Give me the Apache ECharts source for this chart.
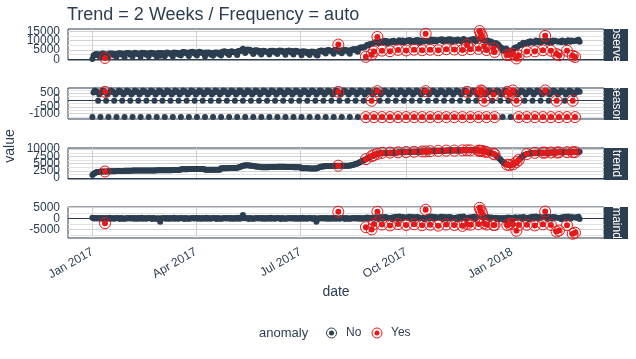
<!DOCTYPE html>
<html><head><meta charset="utf-8">
<script src="https://cdn.jsdelivr.net/npm/echarts@6/dist/echarts.min.js"></script>
<style>html,body{margin:0;padding:0;background:#fff}#c{width:636px;height:359px}</style>
</head><body><div id="c"></div>
<script>
// ---------------- DATA ----------------
const startDate = '2017-01-01';   // daily series, one value per day
const facets = ['observed', 'season', 'trend', 'remainder'];

const observed = [
90,2050,2350,2800,2750,1990,2750,
1040,2600,3100,2900,700,2440,2600,
1040,3150,2900,3100,2950,2090,2800,
1390,3000,3250,2850,3200,2440,2650,
1140,3200,3200,3400,3200,2390,3100,
1440,2950,3450,3200,3050,2740,2900,
1340,3450,3200,3400,3250,2390,3100,
1590,3200,3450,3050,3400,2640,2850,
1290,3350,3350,1850,3350,2540,3250,
1590,3100,3600,3350,3200,2890,3050,
1490,3600,3350,3550,3400,2540,3250,
1990,3600,3850,3450,3800,3040,3250,
1740,3800,3800,4000,3800,2990,3700,
1990,3500,4000,3750,3600,3290,3450,
1540,3650,3400,3600,3450,2590,3300,
1840,3450,3700,3300,3650,2890,3100,
1990,4050,4050,4250,4050,3240,3950,
2340,3850,4350,4100,3950,3640,3800,
2290,4500,4350,4700,4700,5690,4800,
3340,5000,5250,4800,5100,4290,4450,
2790,4750,4700,4850,4600,3740,4400,
2590,4100,4600,4350,4200,3890,4050,
2540,4650,4400,4600,4450,3590,4300,
2840,4450,4700,4300,4650,3890,4100,
2440,4500,4500,4700,4500,3690,4400,
2590,4100,4600,4350,4200,3890,4050,
2140,4250,4000,4200,4050,3190,3900,
2290,3900,4150,3750,4100,3340,2250,
2090,4300,4450,4750,4650,3890,4650,
3040,4550,5050,4800,4650,4340,4500,
2990,5100,4850,5050,7900,4040,4750,
3240,4850,5100,4700,5050,4290,4500,
2940,5050,5150,5450,5350,4690,5550,
3990,5700,6400,6350,6400,6290,6650,
1290,7700,7450,8100,8050,2490,8450,
4190,9150,9150,12000,8750,8890,9600,
4640,9050,10000,9650,9800,8540,9300,
4340,9650,9100,9950,9600,9440,9000,
5040,10250,9700,9350,10100,9140,9700,
4740,10050,9900,10350,9300,9340,10000,
5140,9450,10400,10050,10200,8940,9700,
4840,10050,9500,13750,10000,9840,9400,
5140,10650,10100,9750,10500,9540,10100,
4840,10450,10300,10750,9700,9740,10400,
5440,9850,10800,10450,10600,9340,10100,
5240,10350,9800,10650,10300,10140,9700,
4940,10950,10400,10050,7700,9840,10400,
5440,10650,10500,10950,9900,9940,10600,
5640,15200,13600,12400,10200,6940,10000,
4940,10050,9700,9050,9600,8740,5800,
3940,8750,7900,8050,7100,6440,6200,
4540,5350,4900,5750,2250,4890,2400,
3540,4750,2950,5800,6300,440,6550,
1990,7700,7950,7750,8900,8290,8650,
4140,9250,8800,9700,9400,9290,8900,
4290,10100,9550,9200,9950,8990,9550,
4840,9850,12600,10150,9100,9140,9800,
4590,9200,10150,9800,9950,2790,9450,
2140,9750,9200,10050,9700,9540,9100,
4590,10300,9750,9400,10150,1890,9750,
1240,10100,9950,10450,9400
];

const season = [
-1260,550,700,650,600,-60,400, -1260,550,700,650,600,-60,400, -1260,550,700,650,600,-60,400,
-1260,550,700,650,600,-60,400, -1260,550,700,650,600,-60,400, -1260,550,700,650,600,-60,400,
-1260,550,700,650,600,-60,400, -1260,550,700,650,600,-60,400, -1260,550,700,650,600,-60,400,
-1260,550,700,650,600,-60,400, -1260,550,700,650,600,-60,400, -1260,550,700,650,600,-60,400,
-1260,550,700,650,600,-60,400, -1260,550,700,650,600,-60,400, -1260,550,700,650,600,-60,400,
-1260,550,700,650,600,-60,400, -1260,550,700,650,600,-60,400, -1260,550,700,650,600,-60,400,
-1260,550,700,650,600,-60,400, -1260,550,700,650,600,-60,400, -1260,550,700,650,600,-60,400,
-1260,550,700,650,600,-60,400, -1260,550,700,650,600,-60,400, -1260,550,700,650,600,-60,400,
-1260,550,700,650,600,-60,400, -1260,550,700,650,600,-60,400, -1260,550,700,650,600,-60,400,
-1260,550,700,650,600,-60,400, -1260,550,700,650,600,-60,400, -1260,550,700,650,600,-60,400,
-1260,550,700,650,600,-60,400, -1260,550,700,650,600,-60,400, -1260,550,700,650,600,-60,400,
-1260,550,700,650,600,-60,400, -1260,550,700,650,600,-60,400, -1260,550,700,650,600,-60,400,
-1260,550,700,650,600,-60,400, -1260,550,700,650,600,-60,400, -1260,550,700,650,600,-60,400,
-1260,550,700,650,600,-60,400, -1260,550,700,650,600,-60,400, -1260,550,700,650,600,-60,400,
-1260,550,700,650,600,-60,400, -1260,550,700,650,600,-60,400, -1260,550,700,650,600,-60,400,
-1260,550,700,650,600,-60,400, -1260,550,700,650,600,-60,400, -1260,550,700,650,600,-60,400,
-1260,550,700,650,600,-60,400, -1260,550,700,650,600,-60,400, -1260,550,700,650,600,-60,400,
-1260,550,700,650,600,-60,400, -1260,550,700,650,600,-60,400, -1260,550,700,650,600,-60,400,
-1260,550,700,650,600,-60,400, -1260,550,700,650,600,-60,400, -1260,550,700,650,600,-60,400,
-1260,550,700,650,600,-60,400, -1260,550,700,650,600,-60,400, -1260,550,700,650,600,-60,400,
-1260,550,700,650,600
];

const trend = [
1050,1400,1700,1950,2100,2150,2200,
2200,2250,2250,2300,2300,2300,2300,
2350,2350,2350,2350,2350,2350,2350,
2450,2450,2450,2450,2450,2450,2450,
2550,2550,2550,2550,2550,2550,2550,
2600,2600,2600,2600,2600,2600,2600,
2650,2650,2650,2650,2650,2650,2650,
2650,2650,2650,2650,2650,2650,2650,
2700,2700,2700,2700,2700,2700,2700,
2750,2750,2750,2750,2750,2750,2750,
2800,2800,2800,2800,2800,2800,2800,
3050,3050,3050,3050,3050,3050,3050,
3150,3150,3150,3150,3150,3150,3150,
3150,3150,3150,3150,3150,3150,3150,
2850,2850,2850,2850,2850,2850,2850,
2900,2900,2900,2900,2900,2900,2900,
3400,3400,3400,3400,3400,3400,3400,
3500,3500,3500,3500,3500,3500,3500,
3600,3700,3800,3950,4100,4250,4350,
4400,4450,4450,4400,4350,4300,4250,
4200,4100,4050,4000,3950,3900,3850,
3750,3750,3750,3750,3750,3750,3750,
3850,3850,3850,3850,3850,3850,3850,
3900,3900,3900,3900,3900,3900,3900,
3850,3850,3850,3850,3850,3850,3850,
3750,3750,3750,3750,3750,3750,3750,
3450,3450,3450,3450,3450,3450,3450,
3350,3350,3350,3350,3350,3350,3350,
3500,3650,3800,3900,4000,4050,4100,
4200,4200,4200,4200,4200,4200,4200,
4300,4300,4300,4300,4300,4300,4300,
4300,4300,4300,4300,4300,4300,4300,
4350,4400,4500,4600,4700,4850,5000,
5150,5350,5550,5750,5950,6150,6350,
6550,6750,6950,7150,7350,7550,7750,
7950,8100,8250,8350,8450,8550,8600,
8700,8700,8700,8700,8700,8700,8700,
8800,8800,8800,8800,8800,8800,8800,
8900,8900,8900,8900,8900,8900,8900,
9000,9000,9000,9000,9000,9000,9000,
9100,9100,9100,9100,9100,9100,9100,
9200,9200,9200,9200,9200,9200,9200,
9300,9300,9300,9300,9300,9300,9300,
9400,9400,9400,9400,9400,9400,9400,
9500,9500,9500,9500,9500,9500,9500,
9500,9500,9500,9500,9500,9500,9500,
9600,9600,9600,9600,9600,9600,9600,
9600,9600,9600,9600,9600,9600,9600,
9500,9450,9400,9350,9300,9200,9100,
9000,8900,8800,8700,8600,8500,8400,
8200,7900,7600,7200,6800,6400,6000,
5600,5300,5000,4800,4650,4550,4500,
4500,4600,4750,4950,5200,5500,5850,
6250,6650,7050,7400,7700,7950,8150,
8300,8400,8500,8550,8600,8650,8700,
8750,8750,8750,8750,8750,8750,8750,
8800,8800,8800,8800,8800,8800,8800,
8850,8850,8850,8850,8850,8850,8850,
8900,8900,8900,8900,8900,8900,8900,
8950,8950,8950,8950,8950,8950,8950,
9000,9050,9050,9100,9100
];

const remainder = [
300,100,-50,200,50,-100,150,
100,-200,150,-50,-2200,200,-100,
-50,250,-150,100,0,-200,50,
200,0,100,-250,150,50,-200,
-150,100,-50,200,50,-100,150,
100,-200,150,-50,-150,200,-100,
-50,250,-150,100,0,-200,50,
200,0,100,-250,150,50,-200,
-150,100,-50,-1500,50,-100,150,
100,-200,150,-50,-150,200,-100,
-50,250,-150,100,0,-200,50,
200,0,100,-250,150,50,-200,
-150,100,-50,200,50,-100,150,
100,-200,150,-50,-150,200,-100,
-50,250,-150,100,0,-200,50,
200,0,100,-250,150,50,-200,
-150,100,-50,200,50,-100,150,
100,-200,150,-50,-150,200,-100,
-50,250,-150,100,0,1500,50,
200,0,100,-250,150,50,-200,
-150,100,-50,200,50,-100,150,
100,-200,150,-50,-150,200,-100,
-50,250,-150,100,0,-200,50,
200,0,100,-250,150,50,-200,
-150,100,-50,200,50,-100,150,
100,-200,150,-50,-150,200,-100,
-50,250,-150,100,0,-200,50,
200,0,100,-250,150,50,-1500,
-150,100,-50,200,50,-100,150,
100,-200,150,-50,-150,200,-100,
-50,250,-150,100,3000,-200,50,
200,0,100,-250,150,50,-200,
-150,100,-50,200,50,-100,150,
100,-200,150,-50,-150,200,-100,
-4000,400,-200,300,100,-5000,300,
-2500,500,200,3000,-300,400,600,
-2800,-200,600,300,500,-100,200,
-3200,300,-400,500,200,700,-200,
-2600,800,100,-200,600,300,400,
-3000,500,200,700,-300,400,600,
-2700,-200,600,300,500,-100,200,
-3100,300,-400,3900,200,700,-200,
-2900,800,100,-200,600,300,400,
-3300,500,200,700,-300,400,600,
-2800,-200,600,300,500,-100,200,
-3000,300,-400,500,200,700,-200,
-3400,800,100,-200,-2500,300,400,
-2900,500,200,700,-300,400,600,
-2600,4800,3500,2400,300,-2200,500,
-2800,600,200,-300,400,300,-3000,
-3000,300,-400,200,-300,100,-200,
200,-500,-800,300,-3000,400,-2500,
300,-400,-2500,200,500,-5600,300,
-3000,500,200,-300,600,400,100,
-2900,300,-400,500,200,700,-200,
-3200,800,100,-200,600,300,400,
-2700,500,3100,700,-300,400,600,
-3000,-200,600,300,500,-6000,200,
-5500,300,-400,500,200,700,-200,
-3100,800,100,-200,600,-7000,400,
-6500,500,200,700,-300
];

const anomalyDates = [
'2017-01-12','2017-08-03','2017-08-27','2017-09-01','2017-09-03','2017-09-06','2017-09-10',
'2017-09-17','2017-09-24','2017-10-01','2017-10-08','2017-10-15','2017-10-18','2017-10-22',
'2017-10-29','2017-11-05','2017-11-12','2017-11-19','2017-11-23','2017-11-26','2017-12-03',
'2017-12-04','2017-12-05','2017-12-06','2017-12-08','2017-12-10','2017-12-16','2017-12-17',
'2017-12-28','2017-12-30','2018-01-02','2018-01-05','2018-01-07','2018-01-14','2018-01-21',
'2018-01-28','2018-01-30','2018-02-04','2018-02-09','2018-02-11','2018-02-18','2018-02-23',
'2018-02-25'
];

const xTickDates  = ['2017-01-01', '2017-04-01', '2017-07-01', '2017-10-01', '2018-01-01'];
const xTickLabels = ['Jan 2017', 'Apr 2017', 'Jul 2017', 'Oct 2017', 'Jan 2018'];
const yTicksObserved  = [0, 5000, 10000, 15000];
const yTicksSeason    = [-1000, -500, 0, 500];
const yTicksTrend     = [0, 2500, 5000, 7500, 10000];
const yTicksRemainder = [-5000, 0, 5000];
const yMinorObserved  = [2500, 7500, 12500];
const yMinorSeason    = [-1250, -750, -250, 250, 750];
const yMinorTrend     = [1250, 3750, 6250, 8750];
const yMinorRemainder = [-7500, -2500, 2500];

// ---------------- BUILD ----------------
const DARK = '#2c3e50', RED = '#e31a1c';
const FONT = '"Liberation Sans", Arial, sans-serif';
const DAY = 86400000;
const toTs = s => { const p = s.split('-').map(Number); return Date.UTC(p[0], p[1] - 1, p[2]); };
const t0 = toTs(startDate);
const n = observed.length;
const dates = Array.from({length: n}, (_, i) => t0 + i * DAY);
const anomSet = new Set(anomalyDates.map(toTs));
const values = [observed, season, trend, remainder];
const majors = [yTicksObserved, yTicksSeason, yTicksTrend, yTicksRemainder];
const minors = [yMinorObserved, yMinorSeason, yMinorTrend, yMinorRemainder];
const span = dates[n - 1] - dates[0];
const xMin = dates[0] - 0.05 * span, xMax = dates[n - 1] + 0.05 * span;
const xTickTs = xTickDates.map(toTs);

const GL = 68, GR = 604;
const layout = [
  {top: 29, height: 31, min: -400, max: 16300},
  {top: 88, height: 31, min: -1400, max: 880},
  {top: 148, height: 31, min: -300, max: 10400},
  {top: 207, height: 31, min: -8900, max: 5150}
];

const grid = [], xAxis = [], yAxis = [], series = [], graphic = [];
layout.forEach((L, i) => {
  grid.push({left: GL, right: 636 - GR, top: L.top, height: L.height,
             show: true, borderColor: DARK, borderWidth: 1, backgroundColor: '#fff'});
  const last = i === layout.length - 1;
  xAxis.push({
    type: 'value', gridIndex: i, min: xMin, max: xMax, scale: true,
    axisLine: {show: false}, splitLine: {show: false},
    axisTick: {show: last, customValues: xTickTs, length: 3, lineStyle: {color: '#8a8a8a'}},
    axisLabel: {show: last, customValues: xTickTs, rotate: 30, fontSize: 12, color: DARK, interval: 0,
                fontFamily: FONT, margin: 13, hideOverlap: false, showMinLabel: true, showMaxLabel: true,
                formatter: v => { const k = xTickTs.indexOf(v); return k >= 0 ? xTickLabels[k] : ''; }}
  });
  // one y axis per tick label (same scale), so overlapping labels are all kept like the original
  const yIdx = yAxis.length;
  majors[i].forEach((tv, j) => {
    yAxis.push({
      type: 'value', gridIndex: i, min: L.min, max: L.max, position: 'left', offset: 0,
      axisLine: {show: false}, axisTick: {show: false}, splitLine: {show: false},
      axisLabel: {customValues: [tv], fontSize: 12, color: DARK, fontFamily: FONT, margin: 8,
                  interval: 0, hideOverlap: false, showMinLabel: true, showMaxLabel: true,
                  formatter: v => String(v)}
    });
  });
  const ml = [];
  minors[i].forEach(v => ml.push({yAxis: v, lineStyle: {color: '#e2e2e2'}}));
  majors[i].forEach(v => ml.push({yAxis: v, lineStyle: {color: '#d2d2d2'}}));
  xTickTs.forEach(v => ml.push({xAxis: v, lineStyle: {color: '#d2d2d2'}}));
  ml.push({yAxis: 0, lineStyle: {color: DARK}});
  series.push({
    type: 'line', xAxisIndex: i, yAxisIndex: yIdx, data: [], silent: true, z: 1,
    markLine: {silent: true, z: 1, symbol: ['none', 'none'], label: {show: false}, animation: false,
               lineStyle: {width: 1, type: 'solid'}, data: ml}
  });
  const normal = [], anom = [];
  values[i].forEach((v, k) => (anomSet.has(dates[k]) ? anom : normal).push([dates[k], v]));
  series.push({type: 'scatter', name: 'No', xAxisIndex: i, yAxisIndex: yIdx, data: normal,
               symbolSize: 6, itemStyle: {color: DARK, opacity: 1}, z: 10, silent: true});
  series.push({type: 'scatter', name: 'Yes', xAxisIndex: i, yAxisIndex: yIdx, data: anom,
               symbolSize: 6, itemStyle: {color: RED, opacity: 1}, z: 11, silent: true});
  series.push({type: 'scatter', name: 'Yes', xAxisIndex: i, yAxisIndex: yIdx, data: anom,
               symbolSize: 11, itemStyle: {color: 'rgba(0,0,0,0)', borderColor: RED, borderWidth: 1, opacity: 1},
               z: 12, silent: true});
  // facet strip
  graphic.push({type: 'rect', shape: {x: GR, y: L.top, width: 24, height: L.height + 1},
                style: {fill: DARK}, z: 50});
  graphic.push({type: 'text', x: GR + 12, y: L.top + L.height / 2, rotation: -Math.PI / 2,
                style: {text: facets[i], fill: '#ffffff', font: '12px ' + FONT,
                        textAlign: 'center', textVerticalAlign: 'middle'}, z: 51});
});
// mask strip text overflow between panels
const cuts = [[0, 29], [61, 88], [120, 148], [180, 207], [239, 260]];
cuts.forEach(c => graphic.push({type: 'rect', shape: {x: GR, y: c[0], width: 32, height: c[1] - c[0]},
                                style: {fill: '#fff'}, z: 60}));
// axis titles
graphic.push({type: 'text', x: 10, y: 146, rotation: Math.PI / 2,
              style: {text: 'value', fill: DARK, font: '14px ' + FONT, textAlign: 'center', textVerticalAlign: 'middle'}, z: 70});
graphic.push({type: 'text', x: 336, y: 292,
              style: {text: 'date', fill: DARK, font: '14px ' + FONT, textAlign: 'center', textVerticalAlign: 'middle'}, z: 70});
// legend
const LY = 333;
graphic.push({type: 'text', x: 259, y: LY, style: {text: 'anomaly', fill: DARK, font: '13px ' + FONT, textVerticalAlign: 'middle'}, z: 70});
[[331.5, DARK, 'No', 346], [377, RED, 'Yes', 391]].forEach(g => {
  graphic.push({type: 'circle', shape: {cx: g[0], cy: LY, r: 5}, style: {fill: 'none', stroke: g[1], lineWidth: 1}, z: 70});
  graphic.push({type: 'circle', shape: {cx: g[0], cy: LY, r: 2.5}, style: {fill: g[1]}, z: 70});
  graphic.push({type: 'text', x: g[3], y: LY, style: {text: g[2], fill: DARK, font: '12px ' + FONT, textVerticalAlign: 'middle'}, z: 70});
});

const chart = echarts.init(document.getElementById('c'), null, {renderer: 'canvas'});
chart.setOption({
  animation: false,
  backgroundColor: '#fff',
  title: {text: 'Trend = 2 Weeks / Frequency = auto', left: 67, top: 6, padding: 0,
          textStyle: {fontSize: 18, fontWeight: 'normal', color: DARK, fontFamily: FONT}},
  grid, xAxis, yAxis, series, graphic
});
</script></body></html>
